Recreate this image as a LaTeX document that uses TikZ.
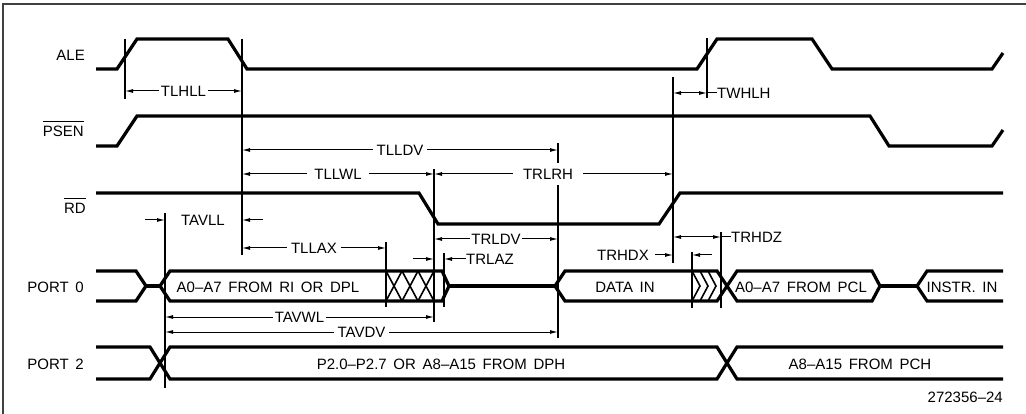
\documentclass[tikz,border=0pt]{standalone}
\usepackage{fontspec}
\setmainfont{Liberation Sans}[WordSpace=1.6]
\usepackage{tikz}
\usetikzlibrary{arrows.meta}
\usetikzlibrary{positioning}
\newcommand{\barlbl}[1]{\vbox{\hrule height 1pt\kern 5pt\hbox{#1}}}
\tikzset{
	sig/.style={line width=3.2pt},
	vln/.style={line width=1.1pt},
	hatch/.style={line width=1.6pt},
	dimln/.style={line width=1pt},
	tlab/.style={fill=white, inner xsep=4pt, inner ysep=1pt},
	tlabt/.style={tlab, inner xsep=1.5pt},
	>={Latex[length=8pt,width=4pt]}
}

\begin{document}
\begin{tikzpicture}[x=1pt,y=-1pt,every node/.style={font=\fontsize{15}{18}\selectfont,inner sep=0pt}]
	\useasboundingbox (0,0) rectangle (1026,414);
	\draw [line width=1.3pt,black!75] (3,414) -- (3,4) -- (1026,4);
	% signal names
	\node (ale) [anchor=base east] at (85,61) {ALE};
	\node (psen) [anchor=base east] at (84,137) {\barlbl{PSEN}};
	\node (rd) [anchor=base east] at (86,214) {\barlbl{RD}};
	\node (port0) [anchor=base east] at (84,292) {PORT 0};
	\node (port2) [anchor=base east] at (84,369) {PORT 2};
	% timing marks
	\coordinate (alerise) at (125,0);
	\coordinate (alefall) at (242,0);
	\coordinate (addrv) at (165,0);
	\coordinate (addrx) at (386,0);
	\coordinate (rdfall) at (434,0);
	\coordinate (addrz) at (444,0);
	\coordinate (datav) at (558,0);
	\coordinate (rdrise) at (673,0);
	\coordinate (datax) at (692,0);
	\coordinate (alenext) at (707,0);
	\coordinate (dataz) at (721,0);
	% ALE, PSEN, RD
	\draw [sig] (96,69) -- (117,69) -- (137,39) -- (228,39) -- (247,69) -- (697,69) -- (717,39) -- (812,39) -- (832,69) -- (992,69) -- (1003,53);
	\draw [sig] (96,146) -- (117,146) -- (137,116) -- (870,116) -- (889,146) -- (992,146) -- (1003,130);
	\draw [sig] (96,193) -- (419,193) -- (438,224) -- (659,224) -- (680,193) -- (1003,193);
	% PORT 0
	\draw [sig] (96,271) -- (136,271) -- (146,286) -- (136,301) -- (96,301);
	\draw [sig] (146,286) -- (160,286);
	\draw [sig] (160,286) -- (170,271) -- (442,271) -- (449,286) -- (442,301) -- (170,301) -- cycle;
	\draw [sig] (449,286) -- (555,286);
	\draw [sig] (555,286) -- (565,271) -- (717,271) -- (727,286) -- (717,301) -- (565,301) -- cycle;
	\draw [sig] (727,286) -- (737,271) -- (872,271) -- (880,286) -- (872,301) -- (737,301) -- cycle;
	\draw [sig] (880,286) -- (917,286);
	\draw [sig] (1003,271) -- (927,271) -- (917,286) -- (927,301) -- (1003,301);
	\foreach \k in {0,1,2} {
		\draw [hatch] (386+16*\k,271) -- (402+16*\k,301);
		\draw [hatch] (386+16*\k,301) -- (402+16*\k,271);
		\draw [hatch] (692+8*\k,271) -- (700+8*\k,286) -- (692+8*\k,301);
	}
	\node (riaddr) at (268,287) {A0–A7 FROM RI OR DPL};
	\node (datain) at (625,287) {DATA IN};
	\node (pcladdr) at (801,287) {A0–A7 FROM PCL};
	\node (instr) at (962,287) {INSTR. IN};
	% PORT 2
	\draw [sig] (96,347) -- (150,347) -- (170,379) -- (717,379) -- (737,347) -- (1003,347);
	\draw [sig] (96,379) -- (150,379) -- (170,347) -- (717,347) -- (737,379) -- (1003,379);
	\node (dphaddr) at (441,364) {P2.0–P2.7 OR A8–A15 FROM DPH};
	\node (pchaddr) at (860,364) {A8–A15 FROM PCH};
	% vertical lines
	\draw [vln] (alerise |- 0,39) -- (alerise |- 0,99);
	\draw [vln] (alefall |- 0,39) -- (alefall |- 0,255);
	\draw [vln] (datav |- 0,143) -- (datav |- 0,338);
	\draw [vln] (rdfall |- 0,169) -- (rdfall |- 0,322);
	\draw [vln] (rdrise |- 0,77) -- (rdrise |- 0,263);
	\draw [vln] (alenext |- 0,38) -- (alenext |- 0,98);
	\draw [vln] (addrv |- 0,213) -- (addrv |- 0,388);
	\draw [vln] (addrx |- 0,242) -- (addrx |- 0,307);
	\draw [vln] (addrz |- 0,253) -- (addrz |- 0,307);
	\draw [vln] (dataz |- 0,232) -- (dataz |- 0,308);
	\draw [vln] (datax |- 0,252) -- (datax |- 0,308);
	% timings
	\draw [dimln,<->] (alerise |- 0,91) -- node [tlabt] (tlhll) {TLHLL} (alefall |- 0,91);
	\draw [dimln,<->] (alefall |- 0,150) -- node [tlab] (tlldv) {TLLDV} (datav |- 0,150);
	\draw [dimln,<->] (alefall |- 0,174) -- node [tlab,inner xsep=7pt] (tllwl) {TLLWL} (rdfall |- 0,174);
	\draw [dimln,<->] (rdfall |- 0,174) -- node [tlab,pos=0.477,inner xsep=10pt,inner ysep=6pt] (trlrh) {TRLRH} (rdrise |- 0,174);
	\draw [dimln,<->] (rdrise |- 0,93) -- (alenext |- 0,93);
	\node (twhlh) [anchor=west] at (717,93) {TWHLH};
	\draw [dimln] (alenext |- 0,93) -- (twhlh.west);
	\coordinate (avll) at (145,220);
	\coordinate (avlr) at (263,220);
	\draw [dimln,->] (avll) -- (addrv |- avll);
	\node (tavll) at (203,220) {TAVLL};
	\draw [dimln,->] (avlr) -- (alefall |- avlr);
	\draw [dimln,<->] (alefall |- 0,248) -- node [tlab] (tllax) {TLLAX} (addrx |- 0,248);
	\draw [dimln,<->] (rdfall |- 0,239) -- node [tlabt] (trldv) {TRLDV} (datav |- 0,239);
	\coordinate (rlaz) at (413,259);
	\draw [dimln,->] (rlaz) -- (rdfall |- rlaz);
	\node (trlaz) [anchor=west] at (466,259) {TRLAZ};
	\draw [dimln,->] (trlaz.west) -- (addrz |- trlaz.west);
	\draw [dimln,<->] (rdrise |- 0,237) -- (dataz |- 0,237);
	\node (trhdz) [anchor=west] at (731,237) {TRHDZ};
	\draw [dimln] (dataz |- 0,237) -- (trhdz.west);
	\node (trhdx) [anchor=east] at (649,255) {TRHDX};
	\draw [dimln,->] ([xshift=6pt]trhdx.east) -- (rdrise |- trhdx.east);
	\coordinate (rhdx) at (712,255);
	\draw [dimln,->] (rhdx) -- (datax |- rhdx);
	\draw [dimln,<->] (addrv |- 0,317) -- node [tlabt] (tavwl) {TAVWL} (rdfall |- 0,317);
	\draw [dimln,<->] (addrv |- 0,332) -- node [tlab] (tavdv) {TAVDV} (datav |- 0,332);
	\node (figno) [anchor=base east] at (1003,402) {272356–24};
\end{tikzpicture}
\end{document}
